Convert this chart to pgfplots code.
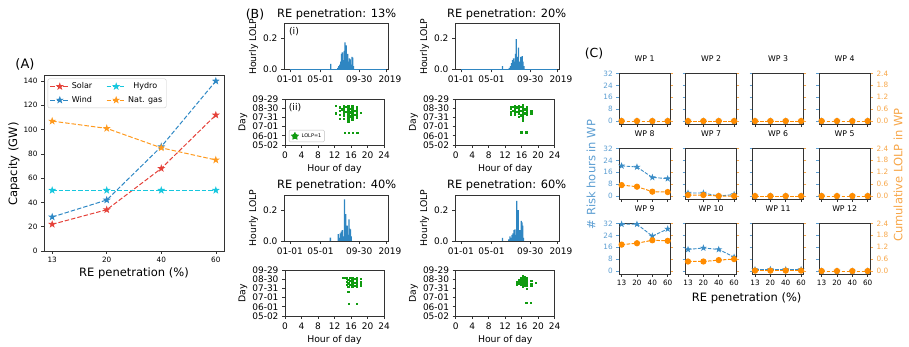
\documentclass[border=0pt]{standalone}
\usepackage{fontspec}
\setmainfont{DejaVu Sans}
\usepackage{pgfplots}
\pgfplotsset{compat=1.18}
\usetikzlibrary{shapes.geometric}

\definecolor{solar}{HTML}{E5423A}
\definecolor{wind}{HTML}{2E88C5}
\definecolor{hydro}{HTML}{17C7DE}
\definecolor{gas}{HTML}{FF9A1F}
\definecolor{hbl}{HTML}{2F86C2}
\definecolor{sgr}{HTML}{109B10}
\definecolor{cbl}{HTML}{3A8CC6}
\definecolor{cbll}{HTML}{5C9ED2}
\definecolor{cor}{HTML}{FF8C00}
\definecolor{corl}{HTML}{F7A648}
\definecolor{frame}{HTML}{333333}

\newcommand{\fs}[1]{\fontsize{#1}{#1}\selectfont}

\pgfdeclareplotmark{fstar}{%
 \pgfpathmoveto{\pgfpointpolar{90}{1.15\pgfplotmarksize}}%
 \pgfpathlineto{\pgfpointpolar{126}{0.45\pgfplotmarksize}}%
 \pgfpathlineto{\pgfpointpolar{162}{1.15\pgfplotmarksize}}%
 \pgfpathlineto{\pgfpointpolar{198}{0.45\pgfplotmarksize}}%
 \pgfpathlineto{\pgfpointpolar{234}{1.15\pgfplotmarksize}}%
 \pgfpathlineto{\pgfpointpolar{270}{0.45\pgfplotmarksize}}%
 \pgfpathlineto{\pgfpointpolar{306}{1.15\pgfplotmarksize}}%
 \pgfpathlineto{\pgfpointpolar{342}{0.45\pgfplotmarksize}}%
 \pgfpathlineto{\pgfpointpolar{18}{1.15\pgfplotmarksize}}%
 \pgfpathlineto{\pgfpointpolar{54}{0.45\pgfplotmarksize}}%
 \pgfpathclose
 \pgfusepathqfillstroke}

\pgfplotsset{
 base/.style={scale only axis, anchor=south west,
   axis line style={draw=frame, line width=0.8pt},
   tick style={draw=frame, line width=0.6pt}, major tick length=3pt,
   tick align=outside, xtick pos=bottom, ytick pos=left,
   /pgf/number format/assume math mode=true},
 aline/.style={dash pattern=on 4.5pt off 2pt, line width=1pt, mark=fstar, mark size=2.3pt, mark options={solid}},
 bax/.style={base, tick label style={font=\fs{9}}},
 cax/.style={base, width=50.7pt, height=51pt, xmin=-0.15, xmax=3.15, ymin=-2, ymax=32.3,
   xtick={0,1,2,3}, ytick={0,8,16,24,32}, tick label style={font=\fs{7.3}},
   yticklabel style={text=cbll}, ytick style={draw=cbll}, clip=false,
   title style={at={(0.5,1)}, anchor=base, yshift=5.5pt, inner sep=0pt, font=\fs{7.8}}},
 caxr/.style={scale only axis, anchor=south west, width=50.7pt, height=51pt, xmin=-0.15, xmax=3.15,
   ymin=-0.15, ymax=2.42, axis y line*=right, axis x line=none,
   axis line style={draw=frame, line width=0.8pt},
   ytick={0,0.6,1.2,1.8,2.4}, tick align=outside, major tick length=3pt,
   yticklabel style={text=corl, font=\fs{7.3}}, ytick style={draw=corl, line width=0.6pt}, clip=false,
   /pgf/number format/assume math mode=true},
 cbline/.style={cbl, dash pattern=on 3.5pt off 1.5pt, line width=0.9pt, mark=fstar, mark size=2pt, mark options={solid}},
 coline/.style={cor, dash pattern=on 3.5pt off 1.5pt, line width=1pt, mark=*, mark size=2.6pt, mark options={solid}},
}

\newcommand{\hist}[3]{%
\begin{axis}[bax, at={(#1pt,#2pt)}, width=104pt, height=45.5pt, xmin=-23, xmax=385, ymin=0, ymax=0.295,
  xtick={0,120,272,377}, xticklabels={01-01,05-01,09-30,\raisebox{7pt}{\hspace*{8pt}2019}}, ytick={0,0.2}, yticklabels={0.0,0.2}]
\addplot[hbl, line width=0.8pt] coordinates {(0,0) (377,0)};
\addplot[ybar, bar width=1.3pt, fill=hbl, draw=none] coordinates {#3};
\end{axis}}

\newcommand{\scat}[4]{%
\begin{axis}[bax, at={(#1pt,#2pt)}, width=99pt, height=46pt, xmin=0, xmax=24, ymin=121, ymax=271,
  xtick={0,4,8,12,16,20,24}, ytick={121,151,181,211,241,271},
  yticklabels={05-02,06-01,07-01,07-31,08-30,09-29},
  legend style={at={(rel axis cs:0.04,0.065)}, anchor=south west, font=\fs{5}, draw=black!25, rounded corners=1pt, inner sep=1pt}]
\addplot[forget plot, only marks, mark=square*, mark size=0.6pt, color=sgr, mark options={draw=none, fill=sgr}] coordinates {#3};
#4
\end{axis}}

\newcommand{\wpp}[8]{%
\begin{axis}[cax, at={(#1pt,#2pt)}, title={#3}, yticklabels={#6}, xticklabels={#8}]
\addplot[cbline] coordinates {#4};
\end{axis}
\begin{axis}[caxr, at={(#1pt,#2pt)}, yticklabels={#7}]
\addplot[coline] coordinates {#5};
\end{axis}}

\begin{document}
\begin{tikzpicture}
\path[use as bounding box] (0pt,0pt) rectangle (909pt,347pt);

% ---------------- (A)
\begin{axis}[base, at={(44pt,96pt)}, width=180pt, height=176pt,
  xmin=-0.15, xmax=3.15, ymin=0, ymax=145,
  xtick={0,1,2,3}, xticklabels={13,20,40,60}, ytick={0,20,40,60,80,100,120,140},
  tick label style={font=\fs{7.3}},
  legend columns=2,
  legend style={at={(rel axis cs:0.02,0.98)}, anchor=north west, font=\fs{8}, draw=black!20,
    rounded corners=2pt, inner sep=2pt, row sep=2pt, /tikz/every even column/.append style={column sep=12pt}},
  legend image code/.code={\draw[mark repeat=2, mark phase=2, #1] plot coordinates {(0pt,0pt) (9.5pt,0pt) (19pt,0pt)};}]
\addplot[aline, solar] coordinates {(0,22) (1,34) (2,68) (3,112)};
\addlegendentry{Solar}
\addplot[aline, hydro] coordinates {(0,50) (1,50) (2,50) (3,50)};
\addlegendentry{Hydro}
\addplot[aline, wind] coordinates {(0,28) (1,42) (2,86) (3,140)};
\addlegendentry{Wind}
\addplot[aline, gas] coordinates {(0,107) (1,101) (2,85) (3,75)};
\addlegendentry{Nat. gas}
\end{axis}
\node[font=\fs{13}] at (25pt,283pt) {(A)};
\node[font=\fs{11.5}, rotate=90] at (14pt,183pt) {Capacity (GW)};
\node[font=\fs{11.5}] at (134pt,74pt) {RE penetration (\%)};

% ---------------- (B)
\hist{284}{277.7}{(160,0.035) (188,0.01) (192,0.02) (196,0.03) (200,0.05) (203,0.1) (206,0.11) (209,0.06) (213,0.12) (216,0.175) (219,0.09) (221,0.155) (224,0.06) (227,0.1) (230,0.05) (234,0.07) (237,0.065) (240,0.03) (244,0.08) (247,0.075) (250,0.02)}
\hist{455}{277.7}{(163,0.02) (190,0.01) (195,0.02) (199,0.04) (203,0.06) (207,0.07) (211,0.05) (214,0.1) (217,0.195) (220,0.08) (223,0.06) (226,0.14) (229,0.05) (232,0.03) (235,0.08) (238,0.06) (241,0.085) (244,0.05) (248,0.02)}
\hist{284}{106}{(159,0.022) (190,0.045) (194,0.02) (198,0.05) (202,0.06) (206,0.07) (209,0.03) (214,0.27) (217,0.12) (219,0.175) (222,0.06) (225,0.1) (228,0.04) (232,0.14) (235,0.08) (238,0.075) (241,0.03)}
\hist{455}{106}{(163,0.02) (188,0.01) (193,0.03) (197,0.02) (201,0.04) (205,0.05) (209,0.07) (212,0.075) (216,0.04) (219,0.26) (222,0.1) (225,0.2) (228,0.06) (231,0.07) (234,0.04) (237,0.13) (240,0.12) (243,0.1) (246,0.02)}

\scat{285}{202}{(12.3,248) (12.3,225)
(13.3,244) (13.3,232) (13.3,220) (13.3,208) (13.8,238)
(14.3,248) (14.3,241) (14.3,233) (14.3,225) (14.3,216) (14.3,208) (14.8,245) (14.8,229)
(15.3,249) (15.3,243) (15.3,237) (15.3,231) (15.3,225) (15.3,219) (15.3,212) (15.3,205) (15.3,198)
(15.8,240) (15.8,228) (15.8,215)
(16.3,248) (16.3,242) (16.3,236) (16.3,230) (16.3,224) (16.3,218) (16.3,211) (16.3,204)
(16.8,233) (16.8,221)
(17.3,246) (17.3,239) (17.3,232) (17.3,225) (17.3,218) (17.3,210)
(18.3,226)
(14.5,162) (15.5,162) (16.5,162) (17.5,162)}{%
\addlegendimage{legend image code/.code={\node[star, star points=5, star point ratio=2.5, fill=sgr, inner sep=0pt, minimum size=10pt] at (6pt,0pt) {};}}
\addlegendentry{LOLP=1}}
\scat{455.7}{202}{(13.3,247) (13.3,240) (13.3,228) (13.3,221)
(13.8,247) (13.8,233)
(14.3,248) (14.3,241) (14.3,234) (14.3,226) (14.3,219)
(14.8,244) (14.8,230)
(15.3,250) (15.3,243) (15.3,236) (15.3,229) (15.3,222) (15.3,214)
(15.8,246) (15.8,232) (15.8,218)
(16.3,253) (16.3,247) (16.3,241) (16.3,235) (16.3,229) (16.3,223) (16.3,217) (16.3,210) (16.3,202)
(16.8,238) (16.8,225)
(17.3,247) (17.3,240) (17.3,233) (17.3,226) (17.3,219)
(18.3,233) (18.3,225)
(15.9,163) (17.1,163)}{}
\scat{285}{31}{(13.9,246) (14.4,246)
(15.0,244) (15.0,232) (15.0,222)
(15.3,240) (15.3,228) (15.3,216) (15.3,200)
(15.8,245) (15.8,235) (15.8,224)
(16.3,246) (16.3,239) (16.3,232) (16.3,225) (16.3,218)
(16.8,243) (16.8,229) (16.8,221)
(17.3,245) (17.3,238) (17.3,231) (17.3,224) (17.3,218)
(18.3,242) (18.3,234) (18.3,226) (18.3,219)
(15.4,162) (17.3,162)}{}
\scat{455.7}{31}{(14.8,231) (14.8,225)
(15.3,238) (15.3,228)
(15.8,246) (15.8,239) (15.8,232) (15.8,225)
(16.3,251) (16.3,245) (16.3,238) (16.3,231) (16.3,224) (16.3,218)
(16.8,248) (16.8,241) (16.8,234) (16.8,227) (16.8,220)
(17.3,244) (17.3,236) (17.3,228) (17.3,220) (17.3,211)
(18.3,235) (18.3,227) (18.3,219)
(19.3,229)
(17.1,165) (18.1,165)}{}

\node[font=\fs{12.5}] at (255pt,332pt) {(B)};
\node[font=\fs{11.4}] at (336.7pt,333pt) {RE penetration: 13\%};
\node[font=\fs{11.4}] at (506.7pt,333pt) {RE penetration: 20\%};
\node[font=\fs{11.4}] at (336.7pt,162pt) {RE penetration: 40\%};
\node[font=\fs{11.4}] at (506.7pt,162pt) {RE penetration: 60\%};
\node[font=\fs{9.3}] at (294pt,315pt) {(i)};
\node[font=\fs{9.3}] at (295pt,239pt) {(ii)};
\foreach \xx in {253.5,424.5}{
  \node[font=\fs{9.3}, rotate=90] at (\xx pt,300.3pt) {Hourly LOLP};
  \node[font=\fs{9.3}, rotate=90] at (\xx pt,129pt) {Hourly LOLP};}
\foreach \xx in {243,413.5}{
  \node[font=\fs{9.3}, rotate=90] at (\xx pt,225pt) {Day};
  \node[font=\fs{9.3}, rotate=90] at (\xx pt,54pt) {Day};}
\foreach \xx in {334.5,505.2}{
  \node[font=\fs{9.3}] at (\xx pt,177.7pt) {Hour of day};
  \node[font=\fs{9.3}] at (\xx pt,6.8pt) {Hour of day};}

% ---------------- (C)
\wpp{619.3}{223}{WP 1}{(0,0) (1,0) (2,0) (3,0)}{(0,0) (1,0) (2,0) (3,0)}{0,8,16,24,32}{}{}
\wpp{685.7}{223}{WP 2}{(0,0) (1,0) (2,0) (3,0)}{(0,0) (1,0) (2,0) (3,0)}{}{}{}
\wpp{752.7}{223}{WP 3}{(0,0) (1,0) (2,0) (3,0)}{(0,0) (1,0) (2,0) (3,0)}{}{}{}
\wpp{819.3}{223}{WP 4}{(0,0) (1,0) (2,0) (3,0)}{(0,0) (1,0) (2,0) (3,0)}{}{0.0,0.6,1.2,1.8,2.4}{}
\wpp{619.3}{148}{WP 8}{(0,20.3) (1,19.5) (2,12.5) (3,11.7)}{(0,0.55) (1,0.47) (2,0.22) (3,0.2)}{0,8,16,24,32}{}{}
\wpp{685.7}{148}{WP 7}{(0,2) (1,2) (2,0) (3,1)}{(0,0.05) (1,0.05) (2,0) (3,0)}{}{}{}
\wpp{752.7}{148}{WP 6}{(0,0) (1,0) (2,0) (3,0)}{(0,0) (1,0) (2,0) (3,0)}{}{}{}
\wpp{819.3}{148}{WP 5}{(0,0) (1,0) (2,0) (3,0)}{(0,0) (1,0) (2,0) (3,0)}{}{0.0,0.6,1.2,1.8,2.4}{}
\wpp{619.3}{73}{WP 9}{(0,31.5) (1,31.5) (2,23.5) (3,28.3)}{(0,1.33) (1,1.4) (2,1.55) (3,1.52)}{0,8,16,24,32}{}{13,20,40,60}
\wpp{685.7}{73}{WP 10}{(0,14.5) (1,15.5) (2,14.5) (3,9.4)}{(0,0.48) (1,0.48) (2,0.55) (3,0.6)}{}{}{13,20,40,60}
\wpp{752.7}{73}{WP 11}{(0,1) (1,1) (2,1) (3,1)}{(0,0.02) (1,0.02) (2,0.02) (3,0.02)}{}{}{13,20,40,60}
\wpp{819.3}{73}{WP 12}{(0,0) (1,0) (2,0) (3,0)}{(0,0) (1,0) (2,0) (3,0)}{}{0.0,0.6,1.2,1.8,2.4}{13,20,40,60}

\node[font=\fs{12.5}] at (594pt,293pt) {(C)};
\node[font=\fs{11.5}, rotate=90, text=cbll] at (591pt,172.5pt) {\# Risk hours in WP};
\node[font=\fs{11.5}, rotate=90, text=corl] at (898pt,172pt) {Cumulative LOLP in WP};
\node[font=\fs{11.5}] at (746.7pt,48.7pt) {RE penetration (\%)};
\end{tikzpicture}
\end{document}
